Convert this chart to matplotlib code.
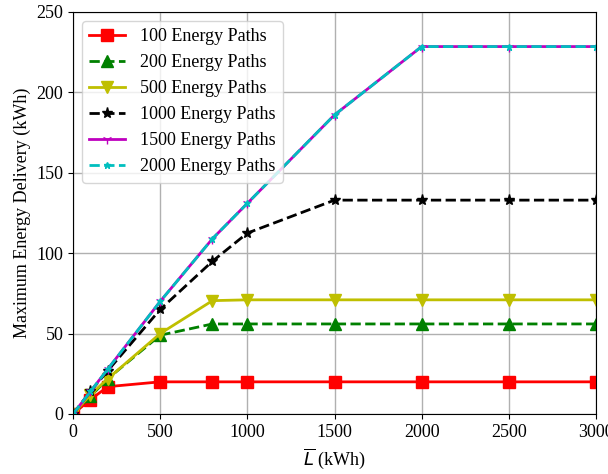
import numpy as np
import matplotlib.pyplot as plt

plt.rcParams['font.family'] = ['Liberation Serif', 'DejaVu Serif']
plt.rcParams['font.size'] = 13
plt.rcParams['mathtext.fontset'] = 'dejavusans'

# capacity values (kWh)
L_bar = [0, 100, 200, 500, 800, 1000, 1500, 2000, 2500, 3000]

paths_100 = [0, 9, 17, 20, 20, 20, 20, 20, 20, 20]
paths_200 = [0, 11, 22, 49, 56, 56, 56, 56, 56, 56]
paths_500 = [0, 12, 22, 50, 70.5, 71, 71, 71, 71, 71]
paths_1000 = [0, 14, 27, 65, 95, 112.5, 133, 133, 133, 133]
paths_1500 = [0, 14, 28, 70, 109, 131, 186, 228.5, 228.5, 228.5]
paths_2000 = [0, 14, 28, 70, 109, 131, 186, 228.5, 228.5, 228.5]

fig = plt.figure(figsize=(6.08, 4.74), dpi=100)
ax = fig.add_axes([73/608, 1-414/474, (596-73)/608, (414-12)/474])

ax.plot(L_bar, paths_100, 'r-s', lw=2, ms=8, label='100 Energy Paths')
ax.plot(L_bar, paths_200, 'g--^', lw=2, ms=8, label='200 Energy Paths')
ax.plot(L_bar, paths_500, 'y-v', lw=2, ms=8, label='500 Energy Paths')
ax.plot(L_bar, paths_1000, 'k--*', lw=2, ms=8, label='1000 Energy Paths')
ax.plot(L_bar, paths_1500, 'm-1', lw=2, ms=7, label='1500 Energy Paths')
ax.plot(L_bar, paths_2000, 'c--*', lw=2, ms=5, mew=1, label='2000 Energy Paths')

ax.set_xlim(0, 3000)
ax.set_ylim(0, 250)
ax.set_xticks([0, 500, 1000, 1500, 2000, 2500, 3000])
ax.set_yticks([0, 50, 100, 150, 200, 250])
ax.grid(True, color='#b0b0b0', lw=1)
ax.set_axisbelow(True)
ax.set_xlabel(r'$\overline{L}$ (kWh)')
ax.set_ylabel('Maximum Energy Delivery (kWh)')
ax.legend(loc='upper left', fontsize=13)

fig.savefig('out.png', dpi=100)
